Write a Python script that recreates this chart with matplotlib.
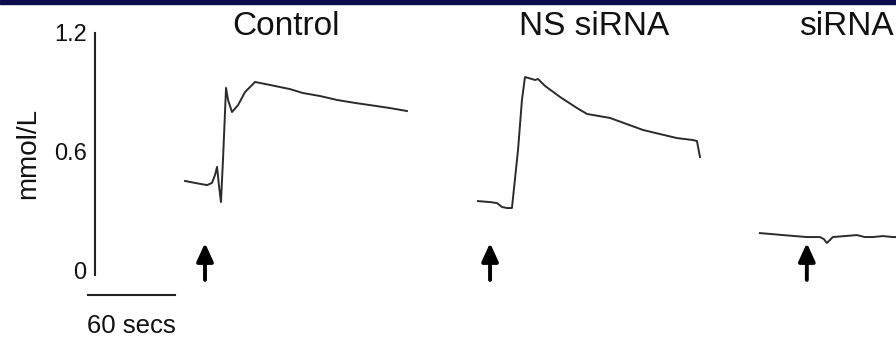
import numpy as np
import matplotlib.pyplot as plt
from matplotlib.patches import Rectangle

plt.rcParams['font.family'] = ['Liberation Sans', 'DejaVu Sans']

# traces: time since trace start (s), calcium (mmol/L)
control_t = [0, 6.9, 15.2, 18.6, 20.7, 22.1, 23.4, 24.8, 26.2, 28.3, 29.7, 32.4,
             36.6, 41.4, 48.3, 58.6, 72.4, 81.4, 93.1, 104.8, 117.2, 127.6, 141.4, 153.1]
control_v = [0.451, 0.441, 0.430, 0.441, 0.481, 0.522, 0.430, 0.344, 0.557, 0.922, 0.861, 0.800,
             0.835, 0.901, 0.952, 0.937, 0.916, 0.896, 0.881, 0.861, 0.846, 0.835, 0.820, 0.805]

ns_t = [0, 8.3, 13.1, 16.6, 20.0, 23.4, 27.6, 30.3, 32.4, 37.2, 39.3, 41.4, 46.2,
        56.6, 68.3, 75.2, 91.0, 113.8, 137.2, 148.3, 151.0, 153.1]
ns_v = [0.349, 0.344, 0.339, 0.319, 0.314, 0.314, 0.608, 0.861, 0.977, 0.967, 0.962, 0.967, 0.932,
        0.876, 0.820, 0.790, 0.770, 0.709, 0.668, 0.658, 0.653, 0.572]

si_t = [0, 8.3, 15.9, 24.1, 32.4, 41.4, 44.1, 46.2, 48.3, 50.3, 58.6, 66.9, 72.4,
        77.9, 84.8, 91.7, 93.8]
si_v = [0.187, 0.182, 0.177, 0.172, 0.167, 0.167, 0.157, 0.137, 0.152, 0.167, 0.172, 0.177, 0.167,
        0.167, 0.172, 0.167, 0.167]

titles = ['Control', 'NS siRNA', 'siRNA']
traces = [(control_t, control_v), (ns_t, ns_v), (si_t, si_v)]
stim_times = [13.8, 8.3, 32.4]          # arrow positions, s after trace start
yticks = [0, 0.6, 1.2]
ytick_labels = ['0', '0.6', '1.2']
scale_secs = 60

# layout (seconds along the shared time axis)
offsets = [127.6, 329.7, 524.1]
title_x = [197.6, 409.7, 584]
axis_x = 65.5
bar_x0 = 60.7

fig = plt.figure(figsize=(8.96, 3.38), dpi=100)
ax = fig.add_axes([0, 0, 1, 1])
ax.set_xlim(0, 618)
ax.set_ylim(-0.344, 1.367)

for (t, v), off in zip(traces, offsets):
    ax.plot(np.array(t) + off, v, color='#2b2b2b', lw=1.4, solid_joinstyle='round')

for st, off in zip(stim_times, offsets):
    ax.annotate('', xy=(st + off, 0.137), xytext=(st + off, -0.05),
                arrowprops=dict(arrowstyle='-|>,head_width=0.5,head_length=1.1',
                                color='black', lw=2.8, shrinkA=0, shrinkB=0))

for title, tx in zip(titles, title_x):
    ax.text(tx, 1.235, title, ha='center', va='center', fontsize=24, color='#111111')

# y axis
for s in ['top', 'right', 'bottom']:
    ax.spines[s].set_visible(False)
ax.spines['left'].set_position(('data', axis_x))
ax.spines['left'].set_bounds(-0.025, 1.2)
ax.spines['left'].set_linewidth(1.5)
ax.spines['left'].set_color('#222222')
ax.set_yticks(yticks)
ax.set_yticklabels(ytick_labels)
ax.tick_params(axis='y', length=0, pad=6, labelsize=17, labelcolor='#111111')
ax.set_xticks([])
ax.text(19.3, 0.59, 'mmol/L', rotation=90, ha='center', va='center', fontsize=20, color='#111111')

# time scale bar
ax.plot([bar_x0, bar_x0 + scale_secs], [-0.127, -0.127], color='#222222', lw=1.5)
ax.text(bar_x0 - 0.5, -0.32, '60 secs', ha='left', va='baseline', fontsize=18.5, color='#111111')

fig.patches.append(Rectangle((0, 1 - 4 / 338), 1, 4 / 338, transform=fig.transFigure,
                             color='#0b0b4d', zorder=10))

fig.savefig('out.png', dpi=100)
